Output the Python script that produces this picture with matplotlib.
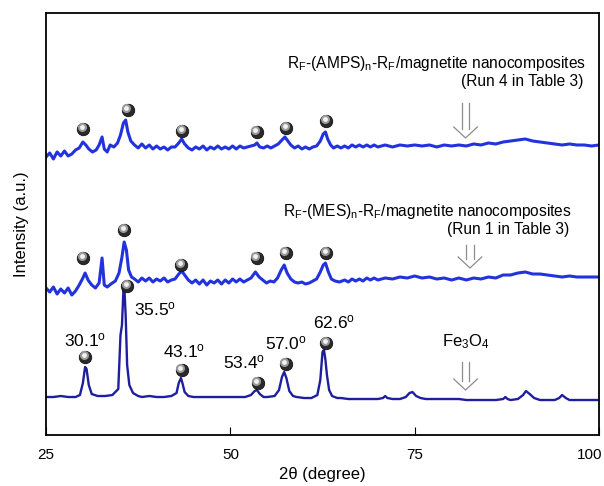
import matplotlib
matplotlib.use("Agg")
import matplotlib.pyplot as plt
from matplotlib.transforms import ScaledTranslation

plt.rcParams['font.family'] = ['Liberation Sans', 'DejaVu Sans']
plt.rcParams['mathtext.fontset'] = 'custom'
plt.rcParams['mathtext.rm'] = 'Liberation Sans'
plt.rcParams['mathtext.it'] = 'Liberation Sans:italic'

# Fe3O4 pattern (bottom)
fe_x = [25, 26, 27, 28, 29, 29.6, 30.0, 30.3, 30.5, 30.8, 31.2, 32, 33, 34, 34.8, 35.1, 35.3, 35.5,
        35.65, 35.8, 36.0, 36.3, 36.8, 37.5, 38, 39, 40, 41, 42, 42.7, 43.0, 43.3, 43.5, 43.8, 44.3,
        45, 46, 47, 48, 49, 50, 51, 52, 52.8, 53.3, 53.6, 54.0, 54.5, 55, 56, 56.6, 57.0, 57.3, 57.6,
        58.0, 58.5, 59, 60, 61, 61.8, 62.2, 62.5, 62.7, 62.9, 63.1, 63.4, 63.8, 64.5, 65, 66, 67, 68,
        69, 70, 70.7, 71.0, 71.3, 72, 73, 73.8, 74.3, 74.7, 75.2, 75.8, 76.5, 77, 78, 79, 80, 81, 82,
        83, 84, 85, 86, 87, 87.3, 87.6, 88, 89, 89.7, 90.1, 90.6, 91.2, 92, 93, 94, 94.6, 95.0, 95.5,
        96, 97, 98, 99, 100]
fe_y = [38, 38, 39, 38, 38, 40, 52, 68, 66, 50, 41, 39, 39, 40, 46, 100, 110, 145,
        143, 120, 70, 50, 42, 39, 38, 39, 38, 38, 39, 42, 52, 57, 52, 43, 39,
        38, 38, 38, 38, 38, 38, 38, 38, 40, 44, 45, 41, 38, 38, 39, 45, 58, 63, 57,
        44, 39, 38, 37, 37, 40, 55, 83, 85, 75, 60, 45, 39, 37, 37, 36, 36, 36,
        36, 36, 37, 39, 37, 36, 36, 38, 42, 43, 39, 37, 36, 36, 36, 36, 36, 36, 35,
        35, 35, 35, 35, 36, 38, 36, 35, 36, 40, 44, 41, 37, 35, 35, 35, 37, 40, 37,
        35, 35, 35, 35, 35]

# RF-(MES)n-RF / magnetite (middle)
mes_x = [25, 25.5, 26, 26.5, 27, 27.5, 28, 28.5, 29, 29.5, 30.0, 30.3, 30.7, 31.2, 31.7, 32.2, 32.6,
         32.9, 33.3, 33.8, 34.4, 34.9, 35.3, 35.6, 35.9, 36.2, 36.6, 37.0, 37.5, 38, 38.5, 39, 39.5,
         40, 40.5, 41, 41.5, 42, 42.5, 43.0, 43.4, 43.8, 44.3, 44.8, 45.3, 45.8, 46.3, 46.8, 47.3,
         47.8, 48.3, 48.8, 49.3, 49.8, 50.3, 50.8, 51.3, 51.8, 52.3, 52.8, 53.4, 53.9, 54.4, 54.9,
         55.4, 55.9, 56.4, 56.9, 57.3, 57.7, 58.2, 58.7, 59.2, 59.7, 60.2, 60.7, 61.2, 61.7, 62.2,
         62.6, 62.9, 63.3, 63.7, 64.2, 64.8, 65.5, 66, 66.5, 67, 67.5, 68, 68.5, 69, 69.5, 70, 71,
         72, 73, 74, 75, 76, 77, 78, 79, 80, 81, 82, 83, 84, 85, 86, 87, 88, 89, 90, 91, 92, 93, 94,
         95, 96, 97, 98, 99, 100]
mes_y = [147, 143, 148, 141, 146, 142, 147, 140, 144, 150, 157, 162, 155, 150, 147, 152, 177,
         150, 148, 151, 154, 162, 178, 193, 185, 165, 158, 156, 153, 157, 154, 157, 153,
         156, 154, 157, 153, 155, 156, 161, 164, 160, 155, 152, 155, 151, 155, 150, 154,
         152, 155, 151, 155, 152, 156, 153, 156, 153, 155, 157, 163, 158, 155, 152,
         154, 153, 157, 165, 170, 162, 156, 153, 152, 153, 151, 152, 154, 156, 163,
         170, 172, 163, 156, 154, 153, 155, 153, 156, 154, 156, 154, 157, 155, 157, 155, 157,
         156, 158, 157, 159, 157, 158, 156, 157, 155, 157, 155, 157, 156, 158, 157, 160, 160, 162,
         163, 161, 161, 160, 159, 158, 159, 158, 158, 158, 158]

# RF-(AMPS)n-RF / magnetite (top)
amps_x = [25, 25.5, 26, 26.5, 27, 27.5, 28, 28.5, 29, 29.5, 30.0, 30.4, 30.8, 31.3, 31.8, 32.2, 32.6,
          32.9, 33.3, 33.7, 34.2, 34.7, 35.1, 35.5, 35.8, 36.1, 36.5, 37, 37.5, 38, 38.5, 39, 39.5,
          40, 40.5, 41, 41.5, 42, 42.5, 43.0, 43.4, 43.8, 44.3, 44.8, 45.3, 45.8, 46.3, 46.8, 47.3,
          47.8, 48.3, 48.8, 49.3, 49.8, 50.3, 50.8, 51.3, 51.8, 52.3, 52.8, 53.3, 53.6, 54.0, 54.5,
          55, 55.5, 56, 56.5, 57.0, 57.4, 57.8, 58.2, 58.7, 59.2, 59.7, 60.2, 60.7, 61.2, 61.7, 62.2,
          62.6, 62.9, 63.2, 63.6, 64, 64.5, 65, 65.5, 66, 66.5, 67, 67.5, 68, 68.5, 69, 69.5, 70, 71,
          72, 73, 74, 75, 76, 77, 78, 79, 80, 81, 82, 83, 84, 85, 86, 87, 88, 89, 90, 91, 92, 93, 94,
          95, 96, 97, 98, 99, 100]
amps_y = [278, 282, 276, 283, 279, 284, 279, 281, 285, 287, 293, 290, 286, 283, 285, 290, 298,
          286, 283, 290, 288, 292, 300, 312, 315, 303, 294, 290, 287, 291, 287, 290, 286,
          289, 286, 288, 285, 288, 288, 292, 296, 291, 287, 285, 288, 286, 289, 285, 288,
          286, 289, 286, 288, 286, 289, 286, 289, 287, 288, 289, 290, 292, 288, 287,
          289, 287, 289, 291, 295, 298, 294, 290, 287, 289, 286, 288, 286, 288, 289, 294,
          301, 303, 296, 290, 287, 289, 287, 289, 287, 290, 288, 290, 288, 290, 288, 290, 288, 290,
          288, 290, 289, 290, 289, 290, 288, 290, 289, 290, 289, 291, 290, 292, 291, 293, 294, 295,
          296, 294, 293, 292, 291, 290, 291, 290, 290, 289, 290]

# magnetite reflection markers (balls)
ball_x_amps = [30.0, 36.1, 43.5, 53.6, 57.6, 63.0]
ball_y_amps = [306, 325, 304, 303, 307, 314]
ball_x_mes = [30.0, 35.6, 43.3, 53.6, 57.5, 63.0]
ball_y_mes = [177, 205, 170, 177, 182, 182]
ball_x_fe = [30.3, 36.0, 43.4, 53.7, 57.5, 63.0]
ball_y_fe = [78, 149, 65, 52, 71, 92]

peak_labels = ['30.1', '35.5', '43.1', '53.4', '57.0', '62.6']
peak_label_x = [30.3, 39.8, 43.7, 51.8, 57.6, 64.1]
peak_label_y = [95, 126, 84, 73, 92, 113]

# hollow arrows near 82 degrees: x, top, tip
arrow_x = [81.9, 82.5, 81.9]
arrow_top = [332, 190, 73]
arrow_tip = [297, 167, 45]

fig = plt.figure(figsize=(6.04, 4.86), dpi=100)
ax = fig.add_axes([0.0762, 0.1049, 0.9155, 0.8684])

ax.plot(amps_x, amps_y, color='#2233dd', lw=2.2)
ax.plot(mes_x, mes_y, color='#2233dd', lw=2.2)
ax.plot(fe_x, fe_y, color='#1e1e9e', lw=1.7)

hl = ax.transData + ScaledTranslation(-1.0 / 72, 1.3 / 72, fig.dpi_scale_trans)
for bx, by in [(ball_x_amps, ball_y_amps), (ball_x_mes, ball_y_mes), (ball_x_fe, ball_y_fe)]:
    ax.scatter(bx, by, s=80, c='#2a2a2a', edgecolors='#111111', linewidths=0.6, zorder=5)
    ax.scatter(bx, by, s=42, c='#9a9a9a', linewidths=0, zorder=6, transform=hl)
    ax.scatter(bx, by, s=12, c='#f2f2f2', linewidths=0, zorder=7, transform=hl)

for lab, lx, ly in zip(peak_labels, peak_label_x, peak_label_y):
    ax.text(lx, ly, lab + r'$^{\rm o}$', ha='center', va='center', fontsize=12.5)

for axx, top, tip in zip(arrow_x, arrow_top, arrow_tip):
    base = tip + 11
    ax.plot([axx - 0.5, axx - 0.5], [top, base - 2], color='#8c8c8c', lw=0.9)
    ax.plot([axx + 0.5, axx + 0.5], [top, base - 2], color='#8c8c8c', lw=0.9)
    ax.plot([axx - 1.6, axx, axx + 1.6], [base, tip, base], color='#8c8c8c', lw=0.9)

ax.text(98.2, 371, r'R$_{\rm F}$-(AMPS)$_{\rm n}$-R$_{\rm F}$/magnetite nanocomposites',
        ha='right', va='center', fontsize=11.2)
ax.text(97.9, 353, '(Run 4 in Table 3)', ha='right', va='center', fontsize=11.2)
ax.text(96.3, 223, r'R$_{\rm F}$-(MES)$_{\rm n}$-R$_{\rm F}$/magnetite nanocomposites',
        ha='right', va='center', fontsize=11.2)
ax.text(96.0, 205, '(Run 1 in Table 3)', ha='right', va='center', fontsize=11.2)
ax.text(82.0, 93, r'Fe$_{\rm 3}$O$_{\rm 4}$', ha='center', va='center', fontsize=12)

ax.set_xlim(25, 100)
ax.set_ylim(0, 422)
ax.set_xticks([25, 50, 75, 100])
ax.set_yticks([])
ax.tick_params(axis='x', direction='in', length=6, width=0.8, labelsize=11, pad=9)
last = ax.get_xticklabels()[-1]
last.set_transform(last.get_transform() + ScaledTranslation(-7 / 72, 0, fig.dpi_scale_trans))
ax.set_xlabel('2θ (degree)', fontsize=12, labelpad=4)
ax.set_ylabel('Intensity (a.u.)', fontsize=12, labelpad=12)
for sp in ax.spines.values():
    sp.set_linewidth(1.3)

fig.savefig('out.png', dpi=100)
